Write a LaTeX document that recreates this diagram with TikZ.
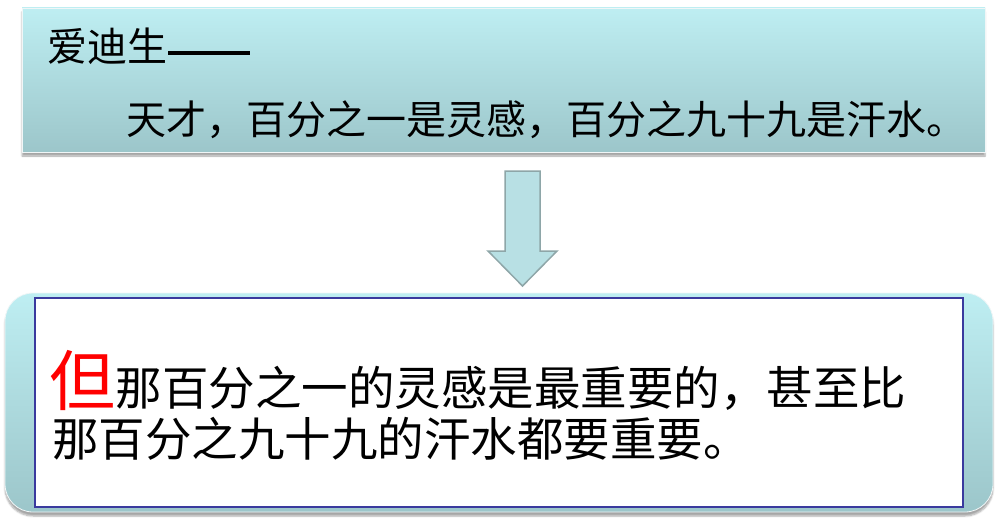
\documentclass[tikz,border=0pt]{standalone}
\usepackage{fontspec}
\newfontfamily\cjk{Noto Sans CJK SC}
\usetikzlibrary{shadows.blur}
\definecolor{boxtop}{HTML}{BEEEF2}
\definecolor{boxbot}{HTML}{9CC6CA}
\definecolor{arrowfill}{HTML}{B8E0E4}
\definecolor{arrowline}{HTML}{8EA6A8}
\definecolor{innerblue}{HTML}{3A3A9E}
\tikzset{
  panel/.style={top color=boxtop, bottom color=boxbot, draw=white!85!boxbot, line width=0.8pt,
    blur shadow={shadow xshift=0pt, shadow yshift=-4pt, shadow blur steps=6, shadow opacity=35}},
  txt/.style={inner sep=0pt, anchor=base west, font=\cjk},
}
\begin{document}
\begin{tikzpicture}[x=1pt,y=-1pt]
\useasboundingbox (0,0) rectangle (1001,519);
% top box
\path[panel] (22,8) rectangle (985,152);
\node[txt, font=\cjk\fontsize{40}{48}\selectfont] (edison) at (47,62) {爱迪生\kern1pt\rule[7pt]{82pt}{4.5pt}};
\node[txt, font=\cjk\fontsize{40}{48}\selectfont] (quote) at (126,134) {天才，百分之一是灵感，百分之九十九是汗水。};
% block arrow
\draw[fill=arrowfill, draw=arrowline, line width=1.5pt, line join=miter]
  (505,171) -- (540,171) -- (540,251) -- (557,251) -- (522.5,286) -- (488,251) -- (505,251) -- cycle;
% bottom box
\path[panel, rounded corners=28pt] (5,293) rectangle (993,512);
\draw[innerblue, line width=1.6pt, fill=white] (35,298) rectangle (963,507);
\node[txt, text=red, font=\cjk\fontsize{66}{70}\selectfont] (dan) at (49,405) {但};
\node[txt, font=\cjk\fontsize{46.5}{52}\selectfont] (line1) at (dan.base east) {那百分之一的灵感是最重要的，甚至比};
\node[txt, font=\cjk\fontsize{46.5}{52}\selectfont] (line2) at (52,456) {那百分之九十九的汗水都要重要。};
\end{tikzpicture}
\end{document}
